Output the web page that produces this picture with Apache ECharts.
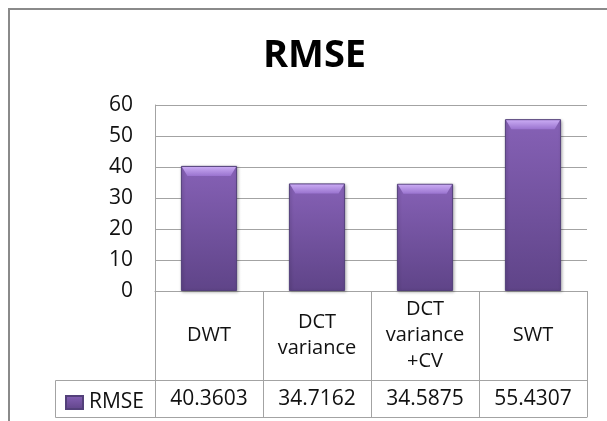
<!DOCTYPE html>
<html>
<head>
<meta charset="utf-8">
<script src="https://cdn.jsdelivr.net/npm/echarts@6/dist/echarts.min.js"></script>
<style>
  html, body { margin: 0; padding: 0; background: #fff; }
  #chart { width: 607px; height: 421px; }
</style>
</head>
<body>
<div id="chart"></div>
<script>
// data
const categories = ['DWT', 'DCT\nvariance', 'DCT\nvariance\n+CV', 'SWT']
const rmseValues = [40.3603, 34.7162, 34.5875, 55.4307]
const yTicks = [0, 10, 20, 30, 40, 50, 60]
const seriesName = 'RMSE'

const gridColor = '#a3a3a3'
const font = 'Open Sans'

const chartObj = echarts.init(document.getElementById('chart'))

const option = {
  animation: false,
  backgroundColor: '#fff',
  textStyle: { fontFamily: font },
  title: {
    text: 'RMSE',
    left: 258,
    top: 32,
    textStyle: { fontSize: 38, fontWeight: 'bold', color: '#000', fontFamily: font }
  },
  legend: { // 表格左下角的图例
    left: 65,
    top: 392,
    itemWidth: 17,
    itemHeight: 13,
    icon: 'rect',
    padding: 0,
    textStyle: { fontSize: 21, color: '#111', padding: [0, 0, 0, 1] },
    data: [seriesName]
  },
  grid: { left: 155, right: 20, top: 105, bottom: 130 },
  xAxis: [
    { // 表头：类别
      type: 'category',
      data: categories,
      axisLine: { lineStyle: { color: gridColor, width: 1 } },
      axisTick: { show: true, length: 89, lineStyle: { color: gridColor } },
      axisLabel: {
        interval: 0,
        margin: 44,
        verticalAlign: 'middle',
        fontSize: 20,
        lineHeight: 26,
        color: '#111'
      }
    },
    { // 表格数值行
      type: 'category',
      data: categories,
      position: 'bottom',
      offset: 89,
      axisLine: { lineStyle: { color: gridColor, width: 1 } },
      axisTick: { show: true, length: 37, lineStyle: { color: gridColor } },
      axisLabel: {
        interval: 0,
        margin: 19,
        verticalAlign: 'middle',
        fontSize: 21,
        color: '#111',
        formatter: (v, i) => rmseValues[i].toFixed(4)
      }
    },
    { // 表格底边
      type: 'category',
      data: categories,
      position: 'bottom',
      offset: 126,
      axisLine: { lineStyle: { color: gridColor, width: 1 } },
      axisTick: { show: false },
      axisLabel: { show: false }
    }
  ],
  yAxis: {
    type: 'value',
    min: yTicks[0],
    max: yTicks[yTicks.length - 1],
    interval: yTicks[1] - yTicks[0],
    axisLine: { show: true, lineStyle: { color: gridColor } },
    axisTick: { show: false },
    splitLine: { lineStyle: { color: gridColor } },
    axisLabel: { fontSize: 21, color: '#111', margin: 22 }
  },
  series: [
    {
      name: seriesName,
      type: 'bar',
      xAxisIndex: 0,
      barWidth: '52%',
      data: rmseValues,
      itemStyle: {
        color: new echarts.graphic.LinearGradient(0, 0, 0, 1, [
          { offset: 0, color: '#8661b6' },
          { offset: 1, color: '#5f4488' }
        ]),
        borderColor: '#53407a',
        borderWidth: 1,
        shadowColor: 'rgba(0,0,0,0.25)',
        shadowBlur: 3,
        shadowOffsetX: 1,
        shadowOffsetY: 1
      }
    },
    { // 柱子顶部的斜面高光
      name: 'cap',
      type: 'pictorialBar',
      xAxisIndex: 0,
      barWidth: '52%',
      barGap: '-100%',
      symbol: 'path://M0,0 L100,0 L90,10 L10,10 Z',
      symbolSize: ['96%', 9],
      symbolPosition: 'end',
      symbolOffset: [0, 1],
      z: 5,
      data: rmseValues,
      itemStyle: {
        color: new echarts.graphic.LinearGradient(0, 0, 0, 1, [
          { offset: 0, color: '#c9aaf3' },
          { offset: 1, color: '#9a74cf' }
        ])
      },
      silent: true
    }
  ],
  graphic: [
    { // 外框
      type: 'rect',
      shape: { x: 9, y: 9, width: 700, height: 500 },
      style: { fill: 'none', stroke: '#8a8a8a', lineWidth: 2 },
      z: 100
    },
    { // 图例单元格
      type: 'rect',
      shape: { x: 55.5, y: 380.5, width: 100, height: 37 },
      style: { fill: 'none', stroke: gridColor, lineWidth: 1 },
      z: 100
    }
  ]
}

chartObj.setOption(option)
</script>
</body>
</html>
